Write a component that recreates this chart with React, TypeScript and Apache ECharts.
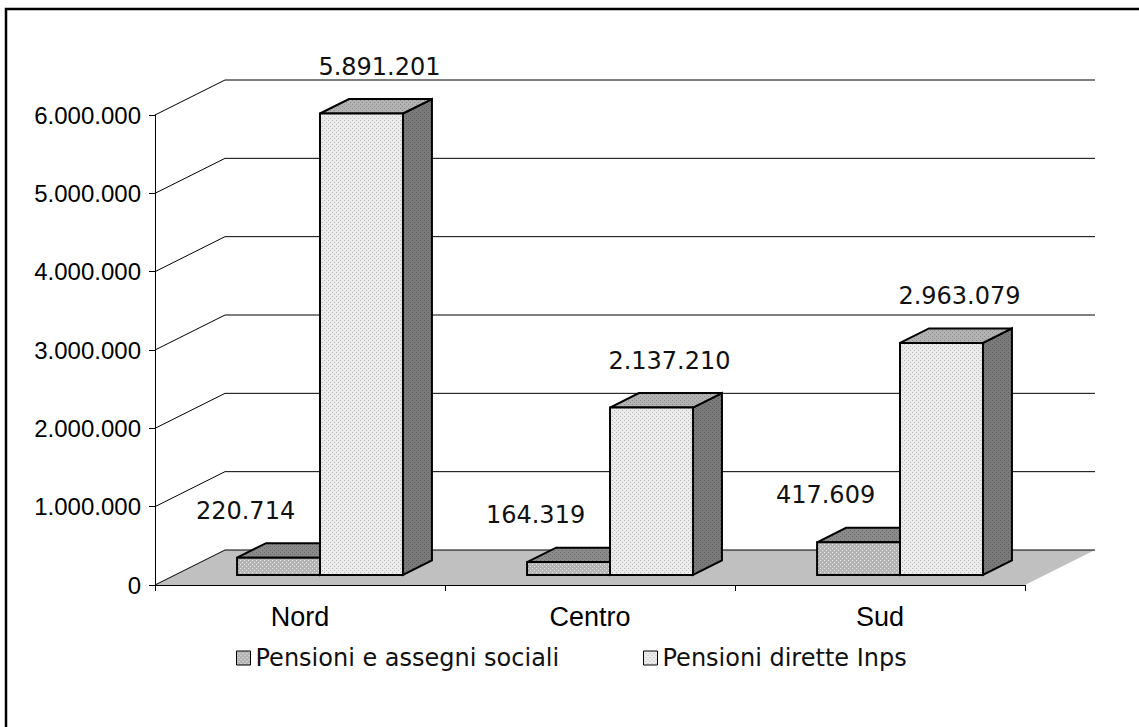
import React, { useEffect, useRef } from "react";
import * as echarts from "echarts";

const categories = ["Nord", "Centro", "Sud"];
const seriesNames = ["Pensioni e assegni sociali", "Pensioni dirette Inps"];
const socialiValues = [220714, 164319, 417609];
const diretteValues = [5891201, 2137210, 2963079];
const yTicks = [0, 1000000, 2000000, 3000000, 4000000, 5000000, 6000000];

const DX = 70;
const DY = -35;
const FRONT = 0.286;
const BACK = 0.7;

function fmt(n: number): string {
  return String(Math.round(n)).replace(/\B(?=(\d{3})+(?!\d))/g, ".");
}

function makePattern(bg: string, dot: string): any {
  const size = 4;
  const c = document.createElement("canvas");
  c.width = size;
  c.height = size;
  const ctx = c.getContext("2d")!;
  ctx.fillStyle = bg;
  ctx.fillRect(0, 0, size, size);
  ctx.fillStyle = dot;
  ctx.fillRect(0, 0, 1, 1);
  ctx.fillRect(2, 2, 1, 1);
  return { image: c.toDataURL(), repeat: "repeat", imageWidth: size, imageHeight: size };
}

export default function App() {
  const ref = useRef<HTMLDivElement>(null);

  useEffect(() => {
    document.body.style.margin = "0";
    const chart = echarts.init(ref.current!, undefined, { renderer: "svg" });

    const pat = {
      socFront: makePattern("#b4b4b4", "#e8e8e8"),
      socTop: makePattern("#8a8a8a", "#6a6a6a"),
      socSide: makePattern("#6a6a6a", "#8a8a8a"),
      dirFront: makePattern("#ececec", "#b8b8b8"),
      dirTop: makePattern("#b2b2b2", "#8e8e8e"),
      dirSide: makePattern("#7a7a7a", "#5e5e5e"),
    };
    const faces = [
      { front: pat.socFront, top: pat.socTop, side: pat.socSide, labelDx: -33 },
      { front: pat.dirFront, top: pat.dirTop, side: pat.dirSide, labelDx: 18 },
    ];

    const barRender = (sIdx: number) => (params: any, api: any) => {
      const cat = api.value(0);
      const val = api.value(1);
      const base = api.coord([cat, 0]);
      const top = api.coord([cat, val]);
      const band = api.size([1, 0])[0];
      const w = band * 0.286;
      const fx = DX * FRONT;
      const fy = DY * FRONT;
      const bx = DX * (BACK - FRONT);
      const by = DY * (BACK - FRONT);
      const x0 = base[0] - w + sIdx * w + fx;
      const x1 = x0 + w;
      const yb = base[1] + fy;
      const yt = top[1] + fy;
      const f = faces[sIdx];
      const stroke = { stroke: "#000", lineWidth: 2, lineJoin: "miter" };
      return {
        type: "group",
        children: [
          {
            type: "polygon",
            shape: { points: [[x1, yt], [x1 + bx, yt + by], [x1 + bx, yb + by], [x1, yb]] },
            style: { fill: f.side, ...stroke },
          },
          {
            type: "polygon",
            shape: { points: [[x0, yt], [x1, yt], [x1 + bx, yt + by], [x0 + bx, yt + by]] },
            style: { fill: f.top, ...stroke },
          },
          {
            type: "rect",
            shape: { x: x0, y: yt, width: w, height: yb - yt },
            style: { fill: f.front, ...stroke },
          },
          {
            type: "text",
            style: {
              text: fmt(val),
              x: (x0 + x1) / 2 + f.labelDx,
              y: yt - 47,
              align: "center",
              verticalAlign: "middle",
              font: "24px 'DejaVu Sans'",
              fill: "#111",
            },
          },
        ],
      };
    };

    const legendText = { fontFamily: "DejaVu Sans", fontSize: 24, color: "#111" };

    const option: any = {
      animation: false,
      backgroundColor: "#fff",
      grid: { left: 155, top: 115, width: 870, height: 470, containLabel: false },
      xAxis: {
        type: "category",
        data: categories,
        boundaryGap: true,
        axisLine: { show: true, lineStyle: { color: "#000", width: 1 } },
        axisTick: { show: true, length: 6, interval: 0, lineStyle: { color: "#000" } },
        axisLabel: { margin: 18, fontSize: 27, fontFamily: "Liberation Sans", color: "#000" },
        splitLine: { show: false },
      },
      yAxis: {
        type: "value",
        min: 0,
        max: 6000000,
        interval: 1000000,
        axisLine: { show: true, lineStyle: { color: "#000", width: 1 } },
        axisTick: { show: true, length: 6, lineStyle: { color: "#000" } },
        axisLabel: {
          margin: 14,
          fontSize: 24,
          fontFamily: "Liberation Sans",
          color: "#000",
          formatter: (v: number) => fmt(v),
        },
        splitLine: { show: false },
      },
      legend: [
        {
          data: [{ name: seriesNames[0], itemStyle: { color: pat.socFront, borderColor: "#000", borderWidth: 1 } }],
          left: 231,
          top: 641,
          icon: "rect",
          itemWidth: 14,
          itemHeight: 14,
          selectedMode: false,
          textStyle: legendText,
        },
        {
          data: [{ name: seriesNames[1], itemStyle: { color: pat.dirFront, borderColor: "#000", borderWidth: 1 } }],
          left: 638,
          top: 641,
          icon: "rect",
          itemWidth: 14,
          itemHeight: 14,
          selectedMode: false,
          textStyle: legendText,
        },
      ],
      graphic: [
        {
          type: "rect",
          shape: { x: 6, y: 9, width: 1150, height: 740 },
          style: { fill: "none", stroke: "#000", lineWidth: 2.5 },
          silent: true,
        },
      ],
      series: [
        {
          type: "custom",
          name: "floor",
          z: -1,
          silent: true,
          data: [[0, 0]],
          renderItem: (params: any, api: any) => {
            const cs = params.coordSys;
            const p = api.coord([0, 0]);
            const xl = cs.x;
            const xr = cs.x + cs.width;
            return {
              type: "polygon",
              shape: { points: [[xl, p[1]], [xr, p[1]], [xr + DX, p[1] + DY], [xl + DX, p[1] + DY]] },
              style: { fill: "#c0c0c0", stroke: "none" },
            };
          },
        },
        {
          type: "custom",
          name: "gridlines",
          z: 1,
          silent: true,
          data: yTicks.map((v) => [0, v]),
          renderItem: (params: any, api: any) => {
            const cs = params.coordSys;
            const p = api.coord([0, api.value(1)]);
            const xl = cs.x;
            const xr = cs.x + cs.width;
            return {
              type: "polyline",
              shape: { points: [[xl, p[1]], [xl + DX, p[1] + DY], [xr + DX, p[1] + DY]] },
              style: { fill: "none", stroke: "#000", lineWidth: 1 },
            };
          },
        },
        {
          type: "custom",
          name: seriesNames[0],
          z: 3,
          itemStyle: { color: "#b4b4b4" },
          data: socialiValues.map((v, i) => [i, v]),
          renderItem: barRender(0),
        },
        {
          type: "custom",
          name: seriesNames[1],
          z: 4,
          itemStyle: { color: "#ececec" },
          data: diretteValues.map((v, i) => [i, v]),
          renderItem: barRender(1),
        },
      ],
    };

    chart.setOption(option);
    return () => chart.dispose();
  }, []);

  return <div ref={ref} style={{ width: 1139, height: 727 }} />;
}
